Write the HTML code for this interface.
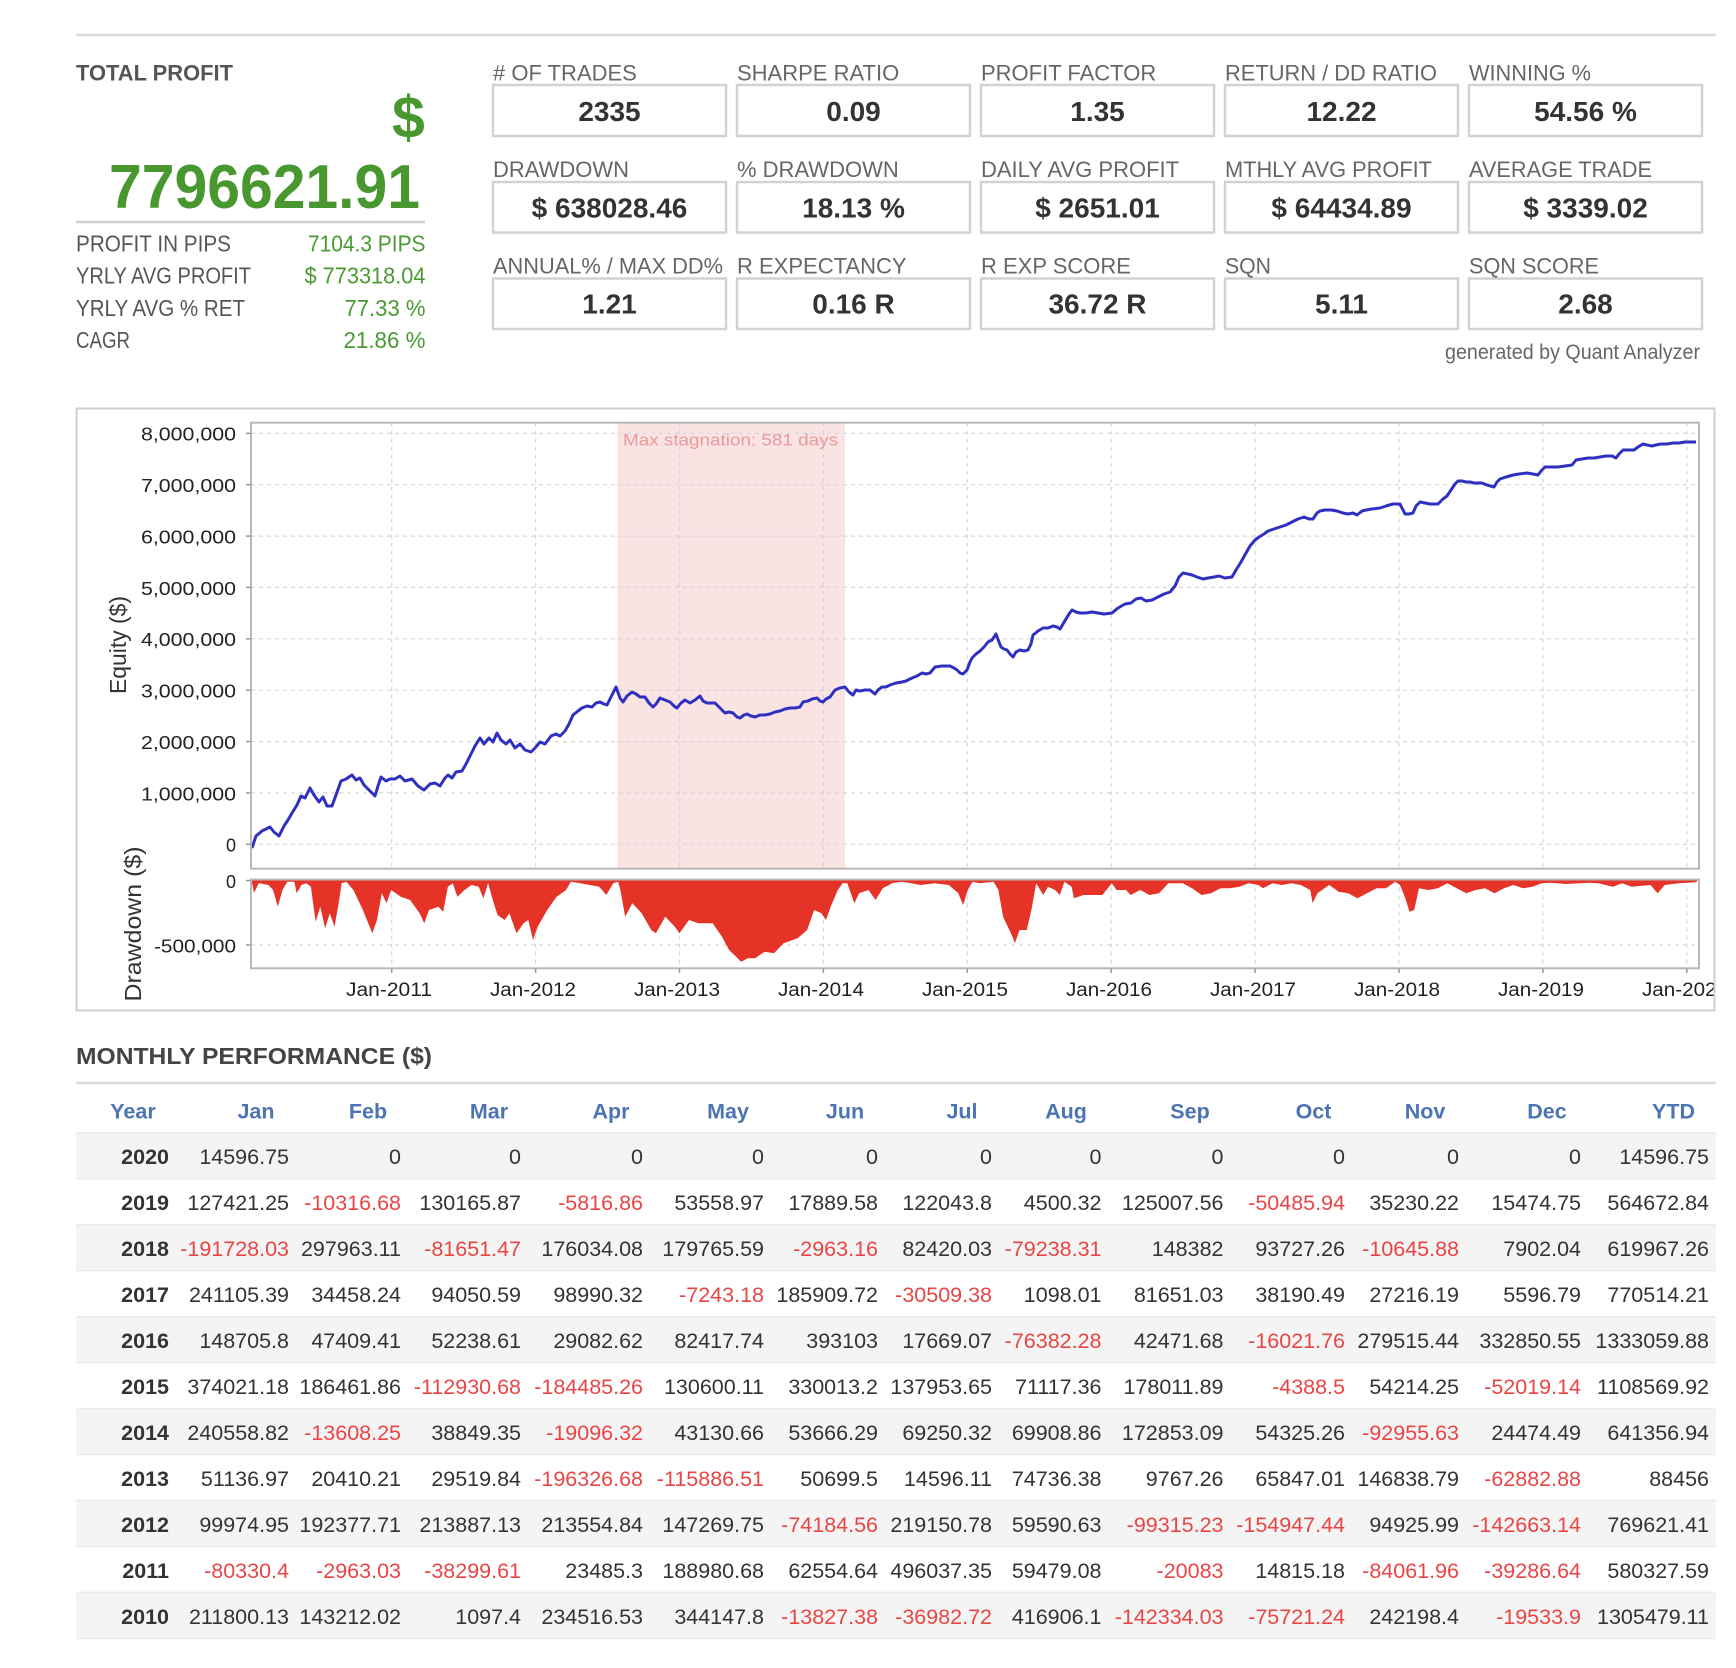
<!DOCTYPE html>
<html><head><meta charset="utf-8"><style>
html,body{margin:0;padding:0;background:#fff;}
svg{display:block;}
.lbl{font-size:22px;fill:#666;}
.val{font-size:28px;font-weight:bold;fill:#333;text-anchor:middle;}
.st{font-size:23px;fill:#555;}
.ax{font-size:18px;fill:#222;text-anchor:end;}
.xl{font-size:19px;fill:#222;text-anchor:middle;}
.hd{font-size:21.5px;font-weight:bold;fill:#4c74b4;text-anchor:middle;}
.tr text{font-size:21.5px;fill:#333;text-anchor:end;}
.tr text.y{font-weight:bold;}
.tr text.r{fill:#e94545;}
.grid{stroke:#d6d6d6;stroke-width:1.2;stroke-dasharray:4 4;fill:none;}
</style></head><body>
<svg width="1736" height="1668" viewBox="0 0 1736 1668" xmlns="http://www.w3.org/2000/svg" font-family="'Liberation Sans', Arial, sans-serif">
<rect x="0" y="0" width="1736" height="1668" fill="#fff"/>
<line x1="76" y1="35" x2="1716" y2="35" stroke="#dcdcdc" stroke-width="2.5"/>

<text x="76" y="80.5" font-size="22" font-weight="bold" fill="#555" textLength="157" lengthAdjust="spacingAndGlyphs">TOTAL PROFIT</text>
<text x="392" y="137.5" font-size="59" font-weight="bold" fill="#48982f">$</text>
<text x="109" y="208" font-size="62" font-weight="bold" fill="#48982f" textLength="311" lengthAdjust="spacingAndGlyphs">7796621.91</text>
<line x1="76" y1="222" x2="425" y2="222" stroke="#cfcfcf" stroke-width="2.5"/>
<text class="st" x="76" y="251.5" textLength="155" lengthAdjust="spacingAndGlyphs">PROFIT IN PIPS</text>
<text class="st" x="76" y="283.5" textLength="175" lengthAdjust="spacingAndGlyphs">YRLY AVG PROFIT</text>
<text class="st" x="76" y="316" textLength="169" lengthAdjust="spacingAndGlyphs">YRLY AVG % RET</text>
<text class="st" x="76" y="348" textLength="54" lengthAdjust="spacingAndGlyphs">CAGR</text>
<text class="st" x="308" y="251.5" style="fill:#4a9a32" textLength="117.5" lengthAdjust="spacingAndGlyphs">7104.3 PIPS</text>
<text class="st" x="304.5" y="283.5" style="fill:#4a9a32" textLength="121" lengthAdjust="spacingAndGlyphs">$ 773318.04</text>
<text class="st" x="344.5" y="316" style="fill:#4a9a32" textLength="81" lengthAdjust="spacingAndGlyphs">77.33 %</text>
<text class="st" x="343.5" y="348" style="fill:#4a9a32" textLength="82" lengthAdjust="spacingAndGlyphs">21.86 %</text>

<g fill="none" stroke="#d2d2d2" stroke-width="2.5">
<rect x="493" y="85" width="233" height="51"/><rect x="737" y="85" width="233" height="51"/><rect x="981" y="85" width="233" height="51"/><rect x="1225" y="85" width="233" height="51"/><rect x="1469" y="85" width="233" height="51"/>
<rect x="493" y="182" width="233" height="50.5"/><rect x="737" y="182" width="233" height="50.5"/><rect x="981" y="182" width="233" height="50.5"/><rect x="1225" y="182" width="233" height="50.5"/><rect x="1469" y="182" width="233" height="50.5"/>
<rect x="493" y="278.5" width="233" height="50.5"/><rect x="737" y="278.5" width="233" height="50.5"/><rect x="981" y="278.5" width="233" height="50.5"/><rect x="1225" y="278.5" width="233" height="50.5"/><rect x="1469" y="278.5" width="233" height="50.5"/>
</g>
<text class="lbl" x="493" y="80.5"># OF TRADES</text>
<text class="lbl" x="737" y="80.5">SHARPE RATIO</text>
<text class="lbl" x="981" y="80.5">PROFIT FACTOR</text>
<text class="lbl" x="1225" y="80.5" textLength="212" lengthAdjust="spacingAndGlyphs">RETURN / DD RATIO</text>
<text class="lbl" x="1469" y="80.5" textLength="122" lengthAdjust="spacingAndGlyphs">WINNING %</text>
<text class="lbl" x="493" y="177">DRAWDOWN</text>
<text class="lbl" x="737" y="177">% DRAWDOWN</text>
<text class="lbl" x="981" y="177">DAILY AVG PROFIT</text>
<text class="lbl" x="1225" y="177" textLength="207" lengthAdjust="spacingAndGlyphs">MTHLY AVG PROFIT</text>
<text class="lbl" x="1469" y="177" textLength="183" lengthAdjust="spacingAndGlyphs">AVERAGE TRADE</text>
<text class="lbl" x="493" y="273.5" textLength="230" lengthAdjust="spacingAndGlyphs">ANNUAL% / MAX DD%</text>
<text class="lbl" x="737" y="273.5">R EXPECTANCY</text>
<text class="lbl" x="981" y="273.5">R EXP SCORE</text>
<text class="lbl" x="1225" y="273.5" textLength="46" lengthAdjust="spacingAndGlyphs">SQN</text>
<text class="lbl" x="1469" y="273.5" textLength="130" lengthAdjust="spacingAndGlyphs">SQN SCORE</text>
<text class="val" x="609.5" y="120.8">2335</text>
<text class="val" x="853.5" y="120.8">0.09</text>
<text class="val" x="1097.5" y="120.8">1.35</text>
<text class="val" x="1341.5" y="120.8">12.22</text>
<text class="val" x="1585.5" y="120.8">54.56 %</text>
<text class="val" x="609.5" y="217.5">$ 638028.46</text>
<text class="val" x="853.5" y="217.5">18.13 %</text>
<text class="val" x="1097.5" y="217.5">$ 2651.01</text>
<text class="val" x="1341.5" y="217.5">$ 64434.89</text>
<text class="val" x="1585.5" y="217.5">$ 3339.02</text>
<text class="val" x="609.5" y="313.7">1.21</text>
<text class="val" x="853.5" y="313.7">0.16 R</text>
<text class="val" x="1097.5" y="313.7">36.72 R</text>
<text class="val" x="1341.5" y="313.7">5.11</text>
<text class="val" x="1585.5" y="313.7">2.68</text>
<text x="1445" y="359" font-size="21" fill="#666" textLength="255" lengthAdjust="spacingAndGlyphs">generated by Quant Analyzer</text>

<defs><clipPath id="cb"><rect x="77" y="409" width="1637" height="601"/></clipPath></defs>
<rect x="76.5" y="408.5" width="1638" height="602" fill="#fff" stroke="#cfcfcf" stroke-width="2"/>
<rect x="251" y="422.7" width="1448" height="446" fill="#fff"/>
<rect x="617.5" y="422.7" width="227.5" height="446" fill="#f9e3e3"/>
<g class="grid">
<line x1="251" y1="433.3" x2="1699" y2="433.3"/><line x1="251" y1="484.7" x2="1699" y2="484.7"/><line x1="251" y1="536.1" x2="1699" y2="536.1"/><line x1="251" y1="587.4" x2="1699" y2="587.4"/><line x1="251" y1="638.8" x2="1699" y2="638.8"/><line x1="251" y1="690.2" x2="1699" y2="690.2"/><line x1="251" y1="741.6" x2="1699" y2="741.6"/><line x1="251" y1="792.9" x2="1699" y2="792.9"/><line x1="251" y1="844.3" x2="1699" y2="844.3"/>
<line x1="391.7" y1="422.7" x2="391.7" y2="868.7"/><line x1="535.6" y1="422.7" x2="535.6" y2="868.7"/><line x1="679.5" y1="422.7" x2="679.5" y2="868.7"/><line x1="823.4" y1="422.7" x2="823.4" y2="868.7"/><line x1="967.3" y1="422.7" x2="967.3" y2="868.7"/><line x1="1111.2" y1="422.7" x2="1111.2" y2="868.7"/><line x1="1255.1" y1="422.7" x2="1255.1" y2="868.7"/><line x1="1399" y1="422.7" x2="1399" y2="868.7"/><line x1="1542.9" y1="422.7" x2="1542.9" y2="868.7"/><line x1="1686.8" y1="422.7" x2="1686.8" y2="868.7"/>
<line x1="251" y1="945" x2="1699" y2="945"/>
<line x1="391.7" y1="879.5" x2="391.7" y2="968.3"/><line x1="535.6" y1="879.5" x2="535.6" y2="968.3"/><line x1="679.5" y1="879.5" x2="679.5" y2="968.3"/><line x1="823.4" y1="879.5" x2="823.4" y2="968.3"/><line x1="967.3" y1="879.5" x2="967.3" y2="968.3"/><line x1="1111.2" y1="879.5" x2="1111.2" y2="968.3"/><line x1="1255.1" y1="879.5" x2="1255.1" y2="968.3"/><line x1="1399" y1="879.5" x2="1399" y2="968.3"/><line x1="1542.9" y1="879.5" x2="1542.9" y2="968.3"/><line x1="1686.8" y1="879.5" x2="1686.8" y2="968.3"/>
</g>
<text x="623" y="445.5" font-size="17" fill="#e89a9a" textLength="215" lengthAdjust="spacingAndGlyphs">Max stagnation: 581 days</text>
<polyline fill="none" stroke="#3030c0" stroke-width="3" stroke-linejoin="round" points="252,848 256,836 262,831 266,829 270,827 274,832 279,836 284,826 288,820 292,813 297,805 301,796 305,798 310,788 314,795 319,802 323,797 327,806 332,806 336,795 341,781 346,779 352,775 356,780 360,778 364,785 369,790 375,796 378,786 381,777 386,781 390,779 395,779 400,776 405,781 412,779 418,786 424,790 430,784 435,783 440,786 445,778 448,775 452,778 456,772 462,771 466,764 471,754 475,746 480,738 484,744 489,738 493,742 497,733 501,740 506,744 510,740 515,748 520,744 525,750 531,752 535,748 540,742 545,744 551,736 556,734 560,736 565,731 569,724 573,715 578,711 582,708 587,706 592,707 596,703 600,702 604,704 607,705 612,695 616,687 620,698 623,702 627,696 632,692 636,694 640,697 645,697 649,703 653,707 656,704 660,698 665,700 670,702 674,706 677,708 681,703 685,700 690,703 695,700 700,696 703,701 707,703 711,703 715,703 720,708 725,713 729,712 733,713 737,717 740,718 744,715 747,714 751,716 755,717 760,715 765,715 770,714 775,712 780,711 785,709 790,708 795,708 800,707 803,702 808,701 812,699 817,698 820,701 823,702 826,699 830,697 835,690 840,688 845,687 849,692 853,695 856,690 860,691 865,690 870,690 875,694 878,690 882,687 886,687 890,685 896,683 902,682 906,681 912,678 917,676 922,673 926,674 930,673 935,667 942,666 950,666 954,668 957,670 960,673 963,674 967,670 970,662 972,658 976,654 980,651 984,647 988,642 992,640 996,634 999,642 1001,647 1004,649 1007,650 1010,654 1013,657 1016,652 1020,650 1024,651 1028,650 1031,644 1033,635 1038,631 1043,628 1048,628 1053,626 1057,627 1060,629 1063,624 1066,619 1069,614 1072,610 1076,612 1080,613 1086,613 1092,612 1098,613 1104,614 1112,613 1118,608 1125,604 1131,603 1136,599 1141,598 1146,601 1152,600 1158,597 1164,594 1170,592 1175,586 1179,577 1183,573 1188,574 1192,575 1197,577 1203,579 1208,578 1214,577 1219,576 1225,578 1232,577 1236,570 1241,562 1246,553 1250,546 1255,540 1259,537 1264,534 1268,531 1274,529 1280,527 1286,525 1292,522 1298,519 1304,517 1309,519 1313,519 1317,513 1320,511 1325,510 1331,510 1337,511 1343,513 1348,514 1353,513 1357,515 1362,511 1366,510 1372,509 1380,508 1386,506 1393,504 1400,504 1403,510 1405,514 1409,514 1413,513 1416,506 1420,502 1425,503 1430,504 1438,504 1443,499 1447,496 1451,490 1455,484 1458,481 1462,481 1466,482 1470,482 1474,483 1478,483 1482,483 1487,485 1494,487 1497,482 1500,479 1506,477 1513,475 1519,474 1527,473 1533,474 1538,475 1541,471 1545,467 1552,467 1558,467 1565,466 1572,465 1576,460 1582,459 1588,458 1594,458 1600,457 1606,456 1612,456 1616,458 1619,454 1623,450 1628,450 1634,450 1638,447 1643,444 1647,445 1652,446 1656,445 1661,444 1667,444 1673,443 1679,443 1685,442 1690,442 1696,442"/>
<rect x="251" y="422.7" width="1448" height="446" fill="none" stroke="#b8b8b8" stroke-width="2"/>
<path fill="#e53327" d="M251.5,880.5 L254,893 258.9,883 263,884 268.4,885 273.1,890 277.8,906.7 282.5,890 287.3,881.7 294.3,881.7 296.7,893.3 301.4,885 306.2,883.3 310.9,886.7 315.6,921.7 320.3,906.7 325.1,928.3 329.8,913.3 334.5,926.7 339.2,900 341.6,883.3 346.3,881.7 353.4,890 362.9,910 372.3,933.3 377,920 381.8,893.3 386.5,903.3 391.2,890 400.7,896.7 410.1,900 419.6,913.3 424.3,923.3 429,910 438.5,906.7 443.2,911.7 447.9,886.7 452.7,883.3 457.4,896.7 464.5,890 471.6,885 478.7,886.7 483.4,898.3 488.1,883.3 492.8,900 497.6,915 504.7,920 509.4,913.3 516.5,933.3 523.6,923.3 528.3,920 533,940 537.7,926.7 547.2,910 556.6,896.7 566.1,890 570.8,881.7 580.3,883.3 589.7,885 599.2,886.7 606.3,895 613.3,883.3 618.1,881.7 620.4,890 625.2,916.7 632.3,903.3 641.7,913.3 651.2,930 655.9,933.3 665.3,916.7 674.8,926.7 679.5,933.3 689,920 698.4,923.3 712.6,923.3 722,936.7 729.1,950 736.2,956.7 741,961.7 748,958.3 755.1,958.3 764.6,951.7 774,953.3 783.5,943.3 797.7,938.3 807.1,930 814.2,910 821.3,913.3 826,920 830.7,906.7 837.8,890 842.6,883.3 847.3,883.3 854.4,903.3 859.1,893.3 868.5,890 875.6,900 882.7,888.3 892.2,883.3 901.6,881.7 911.1,883.3 920.5,885 934.7,883.3 948.9,885 958.3,893.3 963.1,905 967.8,890 972.5,881.7 979.5,883.3 993.6,881.7 998.4,890 1003.1,916.7 1012.5,936.7 1014.9,943.3 1019.6,930 1026.7,930 1031.4,910 1036.2,883.3 1043.3,895 1048,886.7 1055.1,890 1059.8,895 1064.5,881.7 1071.6,886.7 1074,898.3 1083.4,895 1102.3,895 1111.8,883.3 1116.5,890 1126,890 1130.7,895 1140.1,890 1149.6,895 1159,893.3 1168.5,883.3 1182.7,883.3 1192.1,888.3 1201.6,895 1211,893.3 1220.5,888.3 1229.9,888.3 1239.4,886.7 1248.8,883.3 1258.3,885 1263,888.3 1272.5,883.3 1281.9,885 1291.4,883.3 1300.8,885 1310.3,890 1312.6,903.3 1317.4,893.3 1329.2,885 1338.6,891.7 1348.1,893.3 1357.5,898.3 1367,893.3 1376.4,888.3 1385.9,888.3 1395.3,881.7 1400,885 1404.8,896.7 1409.5,911.7 1414.2,910 1419,888.3 1428.4,890 1437.9,888.3 1447.3,883.3 1456.8,888.3 1466.2,893.3 1475.7,890 1485.1,888.3 1494.6,893.3 1504,888.3 1513.5,885 1522.9,888.3 1532.4,886.7 1541.8,883.3 1551.3,882.7 1565.5,884 1579.6,883.3 1589.1,882.7 1598.5,883.3 1612.7,886.7 1622.2,883.3 1631.6,886.7 1650.5,885 1657.6,893.3 1664.7,885 1678.9,883.3 1688.3,882.7 1697,882 1697,880.5 Z"/>
<rect x="251" y="879.5" width="1448" height="88.8" fill="none" stroke="#b8b8b8" stroke-width="2"/>
<g stroke="#999" stroke-width="1.5">
<line x1="246" y1="433.3" x2="251" y2="433.3"/><line x1="246" y1="484.7" x2="251" y2="484.7"/><line x1="246" y1="536.1" x2="251" y2="536.1"/><line x1="246" y1="587.4" x2="251" y2="587.4"/><line x1="246" y1="638.8" x2="251" y2="638.8"/><line x1="246" y1="690.2" x2="251" y2="690.2"/><line x1="246" y1="741.6" x2="251" y2="741.6"/><line x1="246" y1="792.9" x2="251" y2="792.9"/><line x1="246" y1="844.3" x2="251" y2="844.3"/>
<line x1="246" y1="880.5" x2="251" y2="880.5"/><line x1="246" y1="945" x2="251" y2="945"/>
<line x1="391.7" y1="968.3" x2="391.7" y2="973"/><line x1="535.6" y1="968.3" x2="535.6" y2="973"/><line x1="679.5" y1="968.3" x2="679.5" y2="973"/><line x1="823.4" y1="968.3" x2="823.4" y2="973"/><line x1="967.3" y1="968.3" x2="967.3" y2="973"/><line x1="1111.2" y1="968.3" x2="1111.2" y2="973"/><line x1="1255.1" y1="968.3" x2="1255.1" y2="973"/><line x1="1399" y1="968.3" x2="1399" y2="973"/><line x1="1542.9" y1="968.3" x2="1542.9" y2="973"/><line x1="1686.8" y1="968.3" x2="1686.8" y2="973"/>
</g>
<text class="ax" x="236" y="440.7" textLength="95" lengthAdjust="spacingAndGlyphs">8,000,000</text>
<text class="ax" x="236" y="492.1" textLength="95" lengthAdjust="spacingAndGlyphs">7,000,000</text>
<text class="ax" x="236" y="543.5" textLength="95" lengthAdjust="spacingAndGlyphs">6,000,000</text>
<text class="ax" x="236" y="594.8" textLength="95" lengthAdjust="spacingAndGlyphs">5,000,000</text>
<text class="ax" x="236" y="646.2" textLength="95" lengthAdjust="spacingAndGlyphs">4,000,000</text>
<text class="ax" x="236" y="697.6" textLength="95" lengthAdjust="spacingAndGlyphs">3,000,000</text>
<text class="ax" x="236" y="749" textLength="95" lengthAdjust="spacingAndGlyphs">2,000,000</text>
<text class="ax" x="236" y="800.3" textLength="95" lengthAdjust="spacingAndGlyphs">1,000,000</text>
<text class="ax" x="236" y="851.7">0</text>
<text class="ax" x="236" y="888">0</text>
<text class="ax" x="236" y="952.4" textLength="82" lengthAdjust="spacingAndGlyphs">-500,000</text>
<text x="0" y="0" font-size="23" fill="#333" text-anchor="middle" transform="translate(126,645) rotate(-90)" textLength="98" lengthAdjust="spacingAndGlyphs">Equity ($)</text>
<text x="0" y="0" font-size="23" fill="#333" text-anchor="middle" transform="translate(141,924) rotate(-90)" textLength="155" lengthAdjust="spacingAndGlyphs">Drawdown ($)</text>
<g clip-path="url(#cb)">
<text class="xl" x="389" y="996" textLength="86" lengthAdjust="spacingAndGlyphs">Jan-2011</text>
<text class="xl" x="533" y="996" textLength="86" lengthAdjust="spacingAndGlyphs">Jan-2012</text>
<text class="xl" x="677" y="996" textLength="86" lengthAdjust="spacingAndGlyphs">Jan-2013</text>
<text class="xl" x="821" y="996" textLength="86" lengthAdjust="spacingAndGlyphs">Jan-2014</text>
<text class="xl" x="965" y="996" textLength="86" lengthAdjust="spacingAndGlyphs">Jan-2015</text>
<text class="xl" x="1109" y="996" textLength="86" lengthAdjust="spacingAndGlyphs">Jan-2016</text>
<text class="xl" x="1253" y="996" textLength="86" lengthAdjust="spacingAndGlyphs">Jan-2017</text>
<text class="xl" x="1397" y="996" textLength="86" lengthAdjust="spacingAndGlyphs">Jan-2018</text>
<text class="xl" x="1541" y="996" textLength="86" lengthAdjust="spacingAndGlyphs">Jan-2019</text>
<text class="xl" x="1685" y="996" textLength="86" lengthAdjust="spacingAndGlyphs">Jan-2020</text>
</g>
<rect x="76.5" y="408.5" width="1638" height="602" fill="none" stroke="#cfcfcf" stroke-width="2"/>

<text x="76" y="1064" font-size="23" font-weight="bold" fill="#444" textLength="356" lengthAdjust="spacingAndGlyphs">MONTHLY PERFORMANCE ($)</text>
<line x1="76" y1="1083" x2="1716" y2="1083" stroke="#dcdcdc" stroke-width="2.5"/>
<text class="hd" x="133" y="1118.3">Year</text>
<text class="hd" x="256" y="1118.3">Jan</text>
<text class="hd" x="368" y="1118.3">Feb</text>
<text class="hd" x="489" y="1118.3">Mar</text>
<text class="hd" x="611" y="1118.3">Apr</text>
<text class="hd" x="728" y="1118.3">May</text>
<text class="hd" x="845" y="1118.3">Jun</text>
<text class="hd" x="962" y="1118.3">Jul</text>
<text class="hd" x="1066" y="1118.3">Aug</text>
<text class="hd" x="1190" y="1118.3">Sep</text>
<text class="hd" x="1313.5" y="1118.3">Oct</text>
<text class="hd" x="1425" y="1118.3">Nov</text>
<text class="hd" x="1547" y="1118.3">Dec</text>
<text class="hd" x="1673.5" y="1118.3">YTD</text>
<g fill="#f4f4f4">
<rect x="76" y="1132.7" width="1640" height="46"/>
<rect x="76" y="1224.6" width="1640" height="46"/>
<rect x="76" y="1316.6" width="1640" height="46"/>
<rect x="76" y="1408.5" width="1640" height="46"/>
<rect x="76" y="1500.5" width="1640" height="46"/>
<rect x="76" y="1592.4" width="1640" height="46"/>
</g>
<g stroke="#ebebeb" stroke-width="1.5">
<line x1="76" y1="1132.7" x2="1716" y2="1132.7"/><line x1="76" y1="1178.7" x2="1716" y2="1178.7"/><line x1="76" y1="1224.6" x2="1716" y2="1224.6"/><line x1="76" y1="1270.6" x2="1716" y2="1270.6"/><line x1="76" y1="1316.6" x2="1716" y2="1316.6"/><line x1="76" y1="1362.6" x2="1716" y2="1362.6"/><line x1="76" y1="1408.5" x2="1716" y2="1408.5"/><line x1="76" y1="1454.5" x2="1716" y2="1454.5"/><line x1="76" y1="1500.5" x2="1716" y2="1500.5"/><line x1="76" y1="1546.4" x2="1716" y2="1546.4"/><line x1="76" y1="1592.4" x2="1716" y2="1592.4"/><line x1="76" y1="1638.4" x2="1716" y2="1638.4"/>
</g>

<g class="tr" transform="translate(0,1164)">
<text class="y" x="169">2020</text><text x="289">14596.75</text><text x="401">0</text><text x="521">0</text><text x="643">0</text><text x="764">0</text><text x="878">0</text><text x="992">0</text><text x="1101.5">0</text><text x="1223.5">0</text><text x="1345">0</text><text x="1459">0</text><text x="1581">0</text><text x="1709">14596.75</text>
</g>
<g class="tr" transform="translate(0,1210)">
<text class="y" x="169">2019</text><text x="289">127421.25</text><text class="r" x="401">-10316.68</text><text x="521">130165.87</text><text class="r" x="643">-5816.86</text><text x="764">53558.97</text><text x="878">17889.58</text><text x="992">122043.8</text><text x="1101.5">4500.32</text><text x="1223.5">125007.56</text><text class="r" x="1345">-50485.94</text><text x="1459">35230.22</text><text x="1581">15474.75</text><text x="1709">564672.84</text>
</g>
<g class="tr" transform="translate(0,1256)">
<text class="y" x="169">2018</text><text class="r" x="289">-191728.03</text><text x="401">297963.11</text><text class="r" x="521">-81651.47</text><text x="643">176034.08</text><text x="764">179765.59</text><text class="r" x="878">-2963.16</text><text x="992">82420.03</text><text class="r" x="1101.5">-79238.31</text><text x="1223.5">148382</text><text x="1345">93727.26</text><text class="r" x="1459">-10645.88</text><text x="1581">7902.04</text><text x="1709">619967.26</text>
</g>
<g class="tr" transform="translate(0,1302)">
<text class="y" x="169">2017</text><text x="289">241105.39</text><text x="401">34458.24</text><text x="521">94050.59</text><text x="643">98990.32</text><text class="r" x="764">-7243.18</text><text x="878">185909.72</text><text class="r" x="992">-30509.38</text><text x="1101.5">1098.01</text><text x="1223.5">81651.03</text><text x="1345">38190.49</text><text x="1459">27216.19</text><text x="1581">5596.79</text><text x="1709">770514.21</text>
</g>
<g class="tr" transform="translate(0,1348)">
<text class="y" x="169">2016</text><text x="289">148705.8</text><text x="401">47409.41</text><text x="521">52238.61</text><text x="643">29082.62</text><text x="764">82417.74</text><text x="878">393103</text><text x="992">17669.07</text><text class="r" x="1101.5">-76382.28</text><text x="1223.5">42471.68</text><text class="r" x="1345">-16021.76</text><text x="1459">279515.44</text><text x="1581">332850.55</text><text x="1709">1333059.88</text>
</g>
<g class="tr" transform="translate(0,1394)">
<text class="y" x="169">2015</text><text x="289">374021.18</text><text x="401">186461.86</text><text class="r" x="521">-112930.68</text><text class="r" x="643">-184485.26</text><text x="764">130600.11</text><text x="878">330013.2</text><text x="992">137953.65</text><text x="1101.5">71117.36</text><text x="1223.5">178011.89</text><text class="r" x="1345">-4388.5</text><text x="1459">54214.25</text><text class="r" x="1581">-52019.14</text><text x="1709">1108569.92</text>
</g>
<g class="tr" transform="translate(0,1440)">
<text class="y" x="169">2014</text><text x="289">240558.82</text><text class="r" x="401">-13608.25</text><text x="521">38849.35</text><text class="r" x="643">-19096.32</text><text x="764">43130.66</text><text x="878">53666.29</text><text x="992">69250.32</text><text x="1101.5">69908.86</text><text x="1223.5">172853.09</text><text x="1345">54325.26</text><text class="r" x="1459">-92955.63</text><text x="1581">24474.49</text><text x="1709">641356.94</text>
</g>
<g class="tr" transform="translate(0,1486)">
<text class="y" x="169">2013</text><text x="289">51136.97</text><text x="401">20410.21</text><text x="521">29519.84</text><text class="r" x="643">-196326.68</text><text class="r" x="764">-115886.51</text><text x="878">50699.5</text><text x="992">14596.11</text><text x="1101.5">74736.38</text><text x="1223.5">9767.26</text><text x="1345">65847.01</text><text x="1459">146838.79</text><text class="r" x="1581">-62882.88</text><text x="1709">88456</text>
</g>
<g class="tr" transform="translate(0,1532)">
<text class="y" x="169">2012</text><text x="289">99974.95</text><text x="401">192377.71</text><text x="521">213887.13</text><text x="643">213554.84</text><text x="764">147269.75</text><text class="r" x="878">-74184.56</text><text x="992">219150.78</text><text x="1101.5">59590.63</text><text class="r" x="1223.5">-99315.23</text><text class="r" x="1345">-154947.44</text><text x="1459">94925.99</text><text class="r" x="1581">-142663.14</text><text x="1709">769621.41</text>
</g>
<g class="tr" transform="translate(0,1578)">
<text class="y" x="169">2011</text><text class="r" x="289">-80330.4</text><text class="r" x="401">-2963.03</text><text class="r" x="521">-38299.61</text><text x="643">23485.3</text><text x="764">188980.68</text><text x="878">62554.64</text><text x="992">496037.35</text><text x="1101.5">59479.08</text><text class="r" x="1223.5">-20083</text><text x="1345">14815.18</text><text class="r" x="1459">-84061.96</text><text class="r" x="1581">-39286.64</text><text x="1709">580327.59</text>
</g>
<g class="tr" transform="translate(0,1624)">
<text class="y" x="169">2010</text><text x="289">211800.13</text><text x="401">143212.02</text><text x="521">1097.4</text><text x="643">234516.53</text><text x="764">344147.8</text><text class="r" x="878">-13827.38</text><text class="r" x="992">-36982.72</text><text x="1101.5">416906.1</text><text class="r" x="1223.5">-142334.03</text><text class="r" x="1345">-75721.24</text><text x="1459">242198.4</text><text class="r" x="1581">-19533.9</text><text x="1709">1305479.11</text>
</g>
</svg>
</body></html>
